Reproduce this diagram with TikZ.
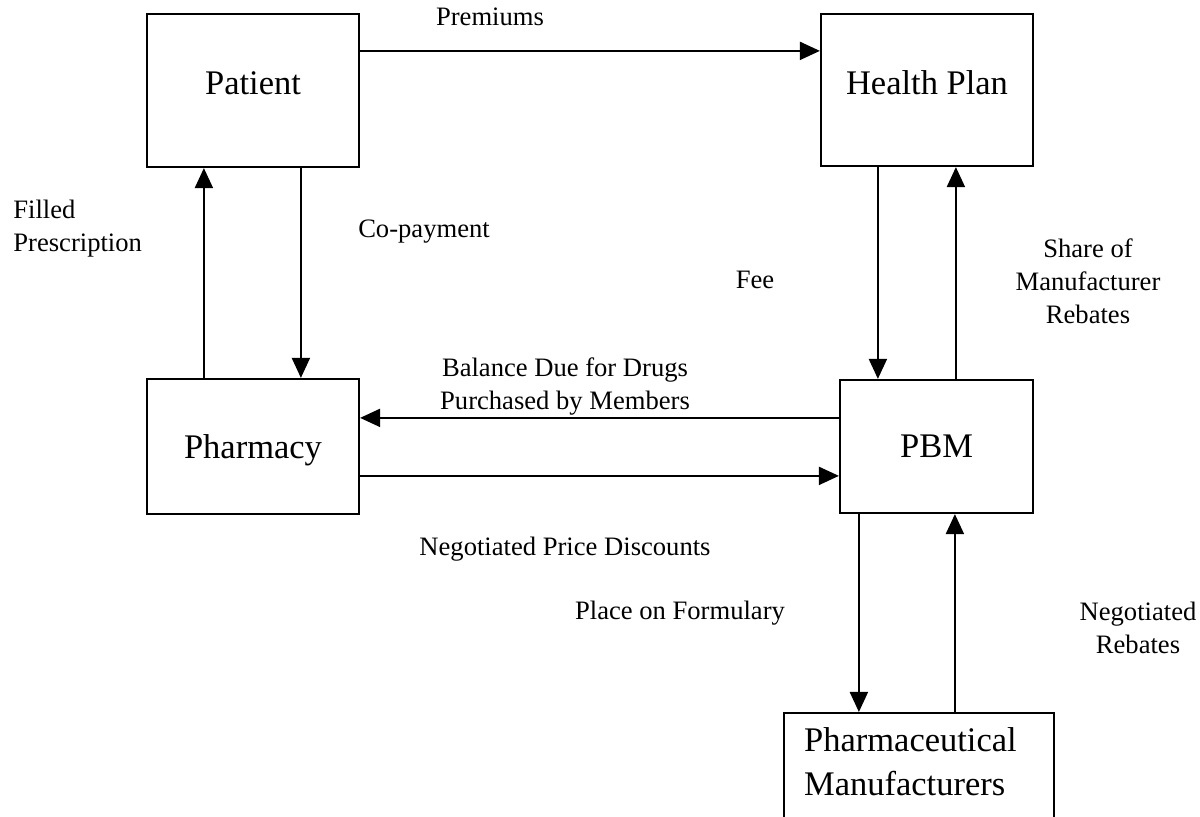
\documentclass[tikz,border=0pt]{standalone}
\usepackage{fontspec}
\setmainfont{Liberation Serif}
\usetikzlibrary{arrows.meta,positioning}

\begin{document}
\begin{tikzpicture}[x=0.5pt,y=-0.5pt,
        box/.style={draw,line width=1.1pt,font=\fontsize{17.25}{22}\selectfont,inner sep=0pt},
        flow/.style={draw,line width=1pt,-{Triangle[length=10pt,width=9pt]}},
        lbl/.style={font=\fontsize{13.3}{16.5}\selectfont,align=center,inner sep=0pt}]
    \useasboundingbox (0,0) rectangle (1200,817);
    % the five parties
    \node[box,minimum width=106pt,minimum height=76.5pt,text depth=7pt] (patient) at (253,90.5) {Patient};
    \node[box,minimum width=106pt,minimum height=76pt,text depth=7pt] (health) at (927,90) {Health Plan};
    \node[box,minimum width=106pt,minimum height=67.5pt,text depth=0pt] (pharmacy) at (253,446.5) {Pharmacy};
    \node[box,minimum width=96.5pt,minimum height=66.5pt,text depth=-1pt] (pbm) at (936.5,446.5) {PBM};
    \node[box,anchor=north west,inner xsep=10pt,inner ysep=7pt,text width=115pt,align=left,text depth=40pt] (manuf) at (783,712) {Pharmaceutical\\Manufacturers};
    % connection points
    \coordinate (prem) at ([yshift=-19pt]patient.north east);
    \coordinate (copay) at ([xshift=77.5pt]patient.south west);
    \coordinate (filled) at ([xshift=29pt]pharmacy.north west);
    \coordinate (fee) at ([xshift=29pt]health.south west);
    \coordinate (share) at ([xshift=58.5pt]pbm.north west);
    \coordinate (bal) at ([yshift=-19.5pt]pbm.north west);
    \coordinate (disc) at ([yshift=-49pt]pharmacy.north east);
    \coordinate (form) at ([xshift=10pt]pbm.south west);
    \coordinate (reb) at ([xshift=58pt]pbm.south west);
    % money and drug flows
    \draw[flow] (prem) -- (prem -| health.west);
    \draw[flow] (copay) -- (copay |- pharmacy.north);
    \draw[flow] (filled) -- (filled |- patient.south);
    \draw[flow] (fee) -- (fee |- pbm.north);
    \draw[flow] (share) -- (share |- health.south);
    \draw[flow] (bal) -- (bal -| pharmacy.east);
    \draw[flow] (disc) -- (disc -| pbm.west);
    \draw[flow] (form) -- (form |- manuf.north);
    \draw[flow] (reb |- manuf.north) -- (reb);
    % labels
    \node[lbl] (l-prem) at (490,17) {Premiums};
    \node[lbl,anchor=west,align=left] (l-filled) at (13,229) {Filled\\Prescription};
    \node[lbl] (l-copay) at (424,232) {Co-payment};
    \node[lbl] (l-fee) at (755,280) {Fee};
    \node[lbl] (l-share) at (1088,281) {Share of\\Manufacturer\\Rebates};
    \node[lbl] (l-bal) at (565,387) {Balance Due for Drugs\\Purchased by Members};
    \node[lbl] (l-disc) at (565,549) {Negotiated Price Discounts};
    \node[lbl] (l-form) at (680,613) {Place on Formulary};
    \node[lbl] (l-reb) at (1138,628) {Negotiated\\Rebates};
\end{tikzpicture}
\end{document}
